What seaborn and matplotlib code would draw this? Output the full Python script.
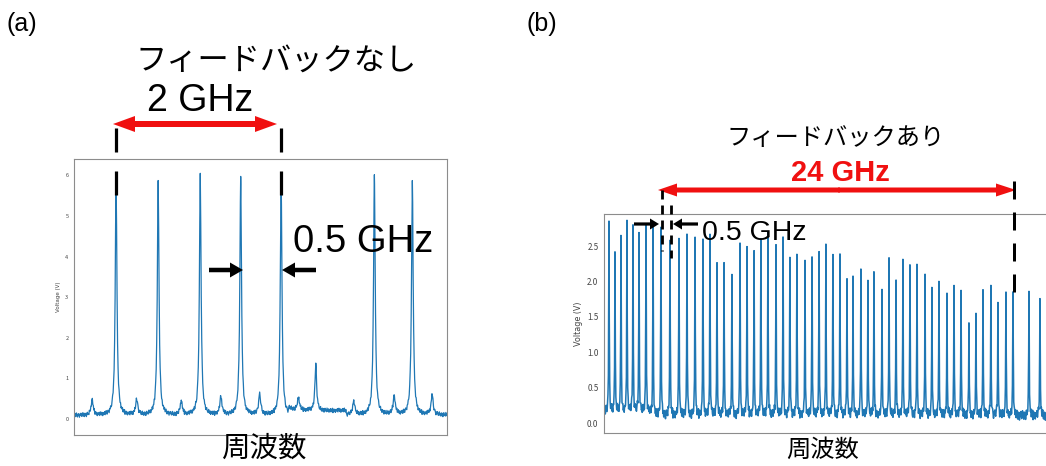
import numpy as np
import pandas as pd
import matplotlib
matplotlib.use("Agg")
import matplotlib.pyplot as plt
from matplotlib.patches import FancyArrowPatch
from matplotlib.lines import Line2D
import seaborn as sns

# ---------------- data ----------------
# (a) without feedback: main comb lines, GHz / V
left_peak_ghz = [0.51, 1.02, 1.53, 2.02, 2.51, 2.93, 3.64, 4.10]
left_peak_v = [5.90, 5.87, 6.00, 5.95, 5.90, 1.25, 5.95, 5.87]
# small side lines
left_side_ghz = [0.22, 0.76, 1.30, 1.78, 2.25, 2.72, 3.39, 3.88, 4.34]
left_side_v = [0.47, 0.47, 0.43, 0.53, 0.60, 0.40, 0.43, 0.55, 0.57]
# baseline level by region (region starts in GHz)
left_base_start = [0.0, 2.60, 3.30]
left_base_v = [0.09, 0.20, 0.10]
left_xticks = [0.56, 1.13, 1.68, 2.25, 2.82, 3.38, 3.95]
left_yticks = [0, 1, 2, 3, 4, 5, 6]

# (b) with feedback: comb lines, GHz / V
right_peak_ghz = [0.34, 0.75, 1.16, 1.57, 1.98, 2.39, 2.87, 3.35, 3.89, 4.51,
                  5.12, 5.67, 6.22, 6.76, 7.24, 7.72, 8.20, 8.74, 9.29, 9.77,
                  10.25, 10.72, 11.20, 11.75, 12.23, 12.70, 13.18, 13.73, 14.21, 14.69,
                  15.16, 15.64, 16.12, 16.60, 17.01, 17.55, 18.03, 18.44, 18.99, 19.47,
                  19.95, 20.42, 20.90, 21.38, 21.93, 22.40, 22.88, 23.43, 23.91, 24.39,
                  24.93, 25.41, 25.89, 26.43, 26.91, 27.46, 27.94, 29.03, 29.78]
right_peak_v = [2.76, 2.33, 2.55, 2.73, 2.71, 2.58, 2.77, 2.76, 2.70, 2.55,
                2.63, 2.68, 2.57, 2.63, 2.61, 2.23, 2.32, 2.11, 2.52, 2.49,
                2.41, 2.60, 2.63, 2.54, 2.56, 2.36, 2.35, 2.22, 2.40, 2.43,
                2.47, 2.39, 2.31, 2.08, 2.03, 2.22, 1.97, 2.07, 1.91, 2.29,
                2.03, 2.29, 2.19, 2.21, 2.07, 1.85, 1.97, 1.77, 2.00, 1.92,
                1.45, 1.53, 1.93, 1.87, 1.75, 1.81, 1.88, 1.89, 1.81]
right_base_start = [0.0, 3.20]
right_base_v = [0.15, 0.10]
right_xticks = [5.12, 10.18, 15.30, 20.36, 25.48, 30.55]
right_yticks = [0.0, 0.5, 1.0, 1.5, 2.0, 2.5]

# measured baseline jitter (V), hand-typed
jitter = [0.03, -0.02, 0.05, -0.04, 0.01, 0.06, -0.03, -0.05, 0.02, 0.04,
          -0.01, -0.06, 0.03, 0.00, 0.05, -0.02, -0.04, 0.02, 0.06, -0.03,
          0.01, -0.05, 0.04, -0.01, 0.03, -0.06, 0.02, 0.05, -0.02, 0.00,
          -0.04, 0.06, 0.01, -0.03, 0.04, -0.05, 0.02, -0.01, 0.05, -0.04,
          0.03, -0.02, 0.06, -0.06, 0.01, 0.04, -0.03, 0.02, -0.05, 0.03,
          0.00, -0.02, 0.05, -0.04, 0.01, 0.06, -0.01, -0.03, 0.04, -0.05, 0.02]


def trace(xmax, step, peaks, heights, gamma, base_start, base_v, jit_scale, extra=None):
    grid = np.arange(0.0, xmax, step)
    centers = list(peaks) + ([] if extra is None else list(extra[0]))
    x = np.union1d(grid, np.array(centers))
    idx = np.searchsorted(np.array(base_start), x, side="right") - 1
    base = np.array(base_v)[idx]
    jit = np.resize(np.array(jitter), x.size) * jit_scale
    y = base + jit
    for c, h in zip(peaks, heights):
        y = y + (h - 0.1) / (1 + ((x - c) / gamma) ** 2)
    if extra is not None:
        for c, h in zip(extra[0], extra[1]):
            y = y + (h - 0.1) / (1 + ((x - c) / (gamma * 1.3)) ** 2)
    return pd.DataFrame({"freq": x, "voltage": y})


df_a = trace(4.53, 0.006, left_peak_ghz, left_peak_v, 0.012,
             left_base_start, left_base_v, 0.9, extra=(left_side_ghz, left_side_v))
df_b = trace(31.15, 0.03, right_peak_ghz, right_peak_v, 0.02,
             right_base_start, right_base_v, 1.1)

# ---------------- figure ----------------
sns.set_style("white")
plt.rcParams["font.family"] = ["Noto Sans CJK JP", "DejaVu Sans"]
plt.rcParams["lines.scale_dashes"] = False
plt.rcParams["text.color"] = "black"

W, H = 1046, 466
fig = plt.figure(figsize=(W / 100, H / 100), dpi=100)
line_color = "#1f77b4"
spine_color = "#8c8c8c"


def fpos(l, t, r, b):
    return [l / W, 1 - b / H, (r - l) / W, (b - t) / H]


ax_a = fig.add_axes(fpos(74, 159, 447, 435))
ax_b = fig.add_axes(fpos(604, 214, 1060, 433))

sns.lineplot(data=df_a, x="freq", y="voltage", ax=ax_a, color=line_color,
             lw=0.9, errorbar=None, estimator=None)
sns.lineplot(data=df_b, x="freq", y="voltage", ax=ax_b, color=line_color,
             lw=1.1, errorbar=None, estimator=None)

ax_a.set_xlim(0, 4.52)
ax_a.set_ylim(-0.39, 6.40)
ax_b.set_xlim(0, 31.15)
ax_b.set_ylim(-0.141, 2.952)

for ax, xt, yt, fs in [(ax_a, left_xticks, left_yticks, 4.0),
                       (ax_b, right_xticks, right_yticks, 5.8)]:
    ax.set_xticks(xt)
    ax.set_xticklabels([])
    ax.set_yticks(yt)
    ax.tick_params(axis="x", direction="in", length=2.5, width=0.7, color=spine_color)
    ax.tick_params(axis="y", direction="out", length=2.5, width=0.7, color=spine_color,
                   labelsize=fs, labelcolor="#444444", pad=1.5)
    ax.set_xlabel("")
    for s in ax.spines.values():
        s.set_color(spine_color)
        s.set_linewidth(0.8)
        s.set_visible(True)

ax_b.set_yticklabels([f"{v:.1f}" for v in right_yticks])
ax_a.set_ylabel("Voltage (V)", fontsize=4.0, color="#444444", labelpad=3,
                family="DejaVu Sans")
ax_b.set_ylabel("Voltage (V)", fontsize=5.8, color="#444444", labelpad=3,
                family="DejaVu Sans")


# ---------------- annotations (figure pixel coordinates) ----------------
def P(x, y):
    return (x / W, 1 - y / H)


def ftext(x, y, s, size, **kw):
    kw.setdefault("color", "black")
    fig.text(x / W, 1 - y / H, s, fontsize=size, **kw)


def arrow(x0, y0, x1, y1, hl, hw, tw, color):
    a = FancyArrowPatch(P(x0, y0), P(x1, y1), transform=fig.transFigure,
                        arrowstyle=f"simple,head_length={hl},head_width={hw},tail_width={tw}",
                        mutation_scale=0.72, lw=0, color=color, shrinkA=0, shrinkB=0)
    fig.add_artist(a)


def vdash(x, y0, y1, on, off, lw):
    ln = Line2D([x / W, x / W], [1 - y0 / H, 1 - y1 / H], transform=fig.transFigure,
                color="black", lw=lw * 0.72, linestyle=(0, (on * 0.72, off * 0.72)),
                solid_capstyle="butt", dash_capstyle="butt")
    fig.add_artist(ln)


latin = ["Liberation Sans", "DejaVu Sans"]
jp = ["Noto Sans CJK JP", "DejaVu Sans"]

# panel labels
ftext(6, 24, "(a)", 18, family=latin, va="center", ha="left")
ftext(526, 24, "(b)", 18, family=latin, va="center", ha="left")

# (a) annotations
ftext(276, 61, "フィードバックなし", 22.5, family=jp, ha="center", va="center")
ftext(200, 101, "2 GHz", 27, family=latin, ha="center", va="center")
arrow(195, 124, 113, 124, 22, 16, 6, "#f01010")
arrow(194, 124, 277, 124, 22, 16, 6, "#f01010")
vdash(115.5, 128, 196, 24, 19, 3.2)
vdash(280.5, 128, 196, 24, 19, 3.2)
ftext(363, 242, "0.5 GHz", 27.5, family=latin, ha="center", va="center")
arrow(209, 270, 243, 270, 13, 15, 4.5, "black")
arrow(316, 270, 282, 270, 13, 15, 4.5, "black")
ftext(264, 449, "周波数", 20.5, family=jp, ha="center", va="center")

# (b) annotations
ftext(836, 138, "フィードバックあり", 17.5, family=jp, ha="center", va="center")
ftext(840, 173, "24 GHz", 21, family=latin, ha="center", va="center",
      weight="bold", color="#f01010")
arrow(840, 190, 658, 190, 19, 13, 5, "#f01010")
arrow(838, 190, 1016, 190, 20, 13, 5, "#f01010")
vdash(661.5, 190, 251, 9, 6, 2.8)
vdash(670.5, 205, 258, 9, 6, 2.8)
vdash(1013.5, 181, 292, 18, 13, 3.0)
ftext(754, 233, "0.5 GHz", 20.5, family=latin, ha="center", va="center")
arrow(634, 224, 659, 224, 9, 11, 3.2, "black")
arrow(698, 224, 673, 224, 9, 11, 3.2, "black")
ftext(823, 450, "周波数", 17.5, family=jp, ha="center", va="center")

fig.savefig("out.png", dpi=100)
